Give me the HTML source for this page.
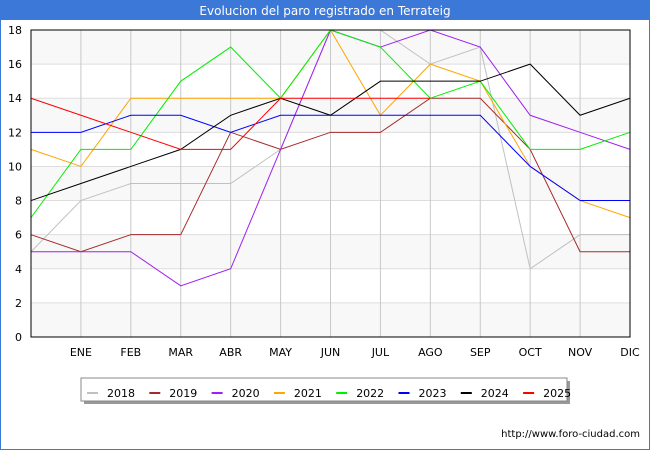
<!DOCTYPE html>
<html><head><meta charset="utf-8"><style>
body{margin:0;background:#fff;font-family:"Liberation Sans","DejaVu Sans",sans-serif}
#wrap{position:relative;width:650px;height:450px;overflow:hidden}
svg text{font-family:"DejaVu Sans","Liberation Sans",sans-serif}
</style></head><body>
<div id="wrap">
<svg id="svg" width="650" height="450" xmlns="http://www.w3.org/2000/svg">
<rect x="0" y="0" width="650" height="450" fill="#fff" stroke="#3b78d8" stroke-width="2"/>
<rect x="0" y="0" width="650" height="20" fill="#3b78d8"/>
<text x="325" y="15" text-anchor="middle" font-size="12" fill="#fff">Evolucion del paro registrado en Terrateig</text>
<g id="grid"></g><g id="lines"></g><g id="axes"></g>
<rect x="84" y="381" width="486" height="23" fill="#999"/>
<rect x="81" y="378" width="486" height="23" fill="#fff" stroke="#888"/>
<g id="legend"></g>
<text x="640" y="437" text-anchor="end" font-size="10" fill="#000">http://www.foro-ciudad.com</text>
</svg></div>
<script>
const months=["","ENE","FEB","MAR","ABR","MAY","JUN","JUL","AGO","SEP","OCT","NOV","DIC"];
const yTicks=[0,2,4,6,8,10,12,14,16,18];
const years=["2018","2019","2020","2021","2022","2023","2024","2025"];
const colors=["#c0c0c0","#a52a2a","#a020f0","#ffa500","#00ee00","#0000ff","#000000","#ff0000"];
const s2018=[5,8,9,9,9,11,18,18,16,17,4,6,6];
const s2019=[6,5,6,6,12,11,12,12,14,14,11,5,5];
const s2020=[5,5,5,3,4,11,18,17,18,17,13,12,11];
const s2021=[11,10,14,14,14,14,18,13,16,15,10,8,7];
const s2022=[7,11,11,15,17,14,18,17,14,15,11,11,12];
const s2023=[12,12,13,13,12,13,13,13,13,13,10,8,8];
const s2024=[8,9,10,11,13,14,13,15,15,15,16,13,14];
const s2025=[14,13,12,11,11,14,14,14,14];
const series=[s2018,s2019,s2020,s2021,s2022,s2023,s2024,s2025];
const L=31,R=630,T=30,B=337;
const xs=i=>L+i*(R-L)/12, ys=v=>B-v*(B-T)/18;
const NS="http://www.w3.org/2000/svg";
function mk(p,t,a){const e=document.createElementNS(NS,t);for(const k in a)e.setAttribute(k,a[k]);p.appendChild(e);return e;}
const g=document.getElementById('grid'),ax=document.getElementById('axes'),ln=document.getElementById('lines'),lg=document.getElementById('legend');
for(let k=0;k<yTicks.length-1;k++){
 const r=mk(g,'rect',{x:L,y:ys(yTicks[k+1]),width:R-L,height:ys(yTicks[k])-ys(yTicks[k+1]),fill:k%2==0?'#f8f8f8':'#ffffff'});
 
}
yTicks.forEach(v=>{
 const l=mk(g,'line',{x1:L,x2:R,y1:ys(v),y2:ys(v),stroke:'#ddd'});
 
 const t=mk(ax,'text',{x:22,y:ys(v)+4,'text-anchor':'end','font-size':11});t.textContent=v;
 
});
months.forEach((m,i)=>{
 if(i>0){const l=mk(g,'line',{x1:xs(i),x2:xs(i),y1:T,y2:B,stroke:'#c8c8c8'});
 }
 const t=mk(ax,'text',{x:xs(i),y:356,'text-anchor':'middle','font-size':11});t.textContent=m;
 
});
const fr=mk(ax,'rect',{x:L,y:T,width:R-L,height:B-T,fill:'none',stroke:'#000'});

series.forEach((s,k)=>{
 const p=mk(ln,'polyline',{points:s.map((v,i)=>xs(i)+','+ys(v)).join(' '),fill:'none',stroke:colors[k],'stroke-width':1});
 
 const x0=87+k*62.3;
 const l=mk(lg,'line',{x1:x0,x2:x0+11,y1:393,y2:393,stroke:colors[k],'stroke-width':2});
 
 const t=mk(lg,'text',{x:x0+20,y:397,'font-size':11});t.textContent=years[k];
 
});
</script></body></html>
